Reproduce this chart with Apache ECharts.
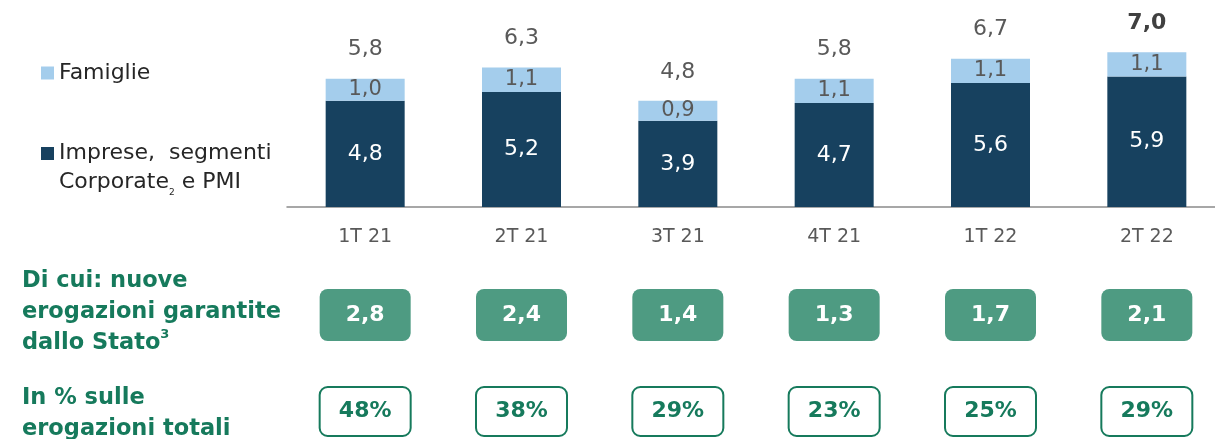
<!DOCTYPE html>
<html>
<head>
<meta charset="utf-8">
<script src="https://cdn.jsdelivr.net/npm/echarts@6/dist/echarts.min.js"></script>
<style>
  html, body { margin: 0; padding: 0; background: #fff; }
  #chart { width: 1215px; height: 439px; }
</style>
</head>
<body>
<div id="chart"></div>
<script>
// dati (mld €)
var categorie = ['1T 21', '2T 21', '3T 21', '4T 21', '1T 22', '2T 22']
var imprese   = [4.8, 5.2, 3.9, 4.7, 5.6, 5.9]
var famiglie  = [1.0, 1.1, 0.9, 1.1, 1.1, 1.1]
var totali    = [5.8, 6.3, 4.8, 5.8, 6.7, 7.0]
var garantite = [2.8, 2.4, 1.4, 1.3, 1.7, 2.1]
var quota     = [48, 38, 29, 23, 25, 29]

var nomeImprese  = 'Imprese, segmenti Corporate e PMI'
var nomeFamiglie = 'Famiglie'

// colori
var navy = '#17415F'
var lightBlue = '#A4CDEC'
var gray = '#595959'
var green = '#167A5C'
var greenFill = '#4E9B82'
var font = 'DejaVu Sans'

function virgola(v) {
    return v.toFixed(1).replace('.', ',')
}

var chart = echarts.init(document.getElementById('chart'), null, {renderer: 'canvas'})

// griglie: barre + due righe di riquadri (la griglia esce un po' a destra)
var gridLeft = 287, gridWidth = 938

function boxSeries(values, gridIdx, filled, fmt) {
    return {
        type: 'custom',
        xAxisIndex: gridIdx,
        yAxisIndex: gridIdx,
        data: values.map(function (v, i) { return [i, v] }),
        renderItem: function (params, api) {
            var cs = params.coordSys
            var cx = api.coord([api.value(0), 0])[0]
            var w = 91
            return {
                type: 'rect',
                shape: {x: cx - w / 2, y: cs.y, width: w, height: cs.height, r: 8},
                style: filled
                    ? {fill: greenFill}
                    : {fill: '#fff', stroke: green, lineWidth: 2},
                textContent: {
                    style: {
                        text: fmt(values[params.dataIndex]),
                        fill: filled ? '#fff' : green,
                        font: 'bold 22px "DejaVu Sans"'
                    }
                },
                textConfig: {position: 'inside'}
            }
        }
    }
}

var option = {
    backgroundColor: '#fff',
    animation: false,
    grid: [
        {left: gridLeft, width: gridWidth, top: 30, height: 177, outerBoundsMode: 'none'},
        {left: gridLeft, width: gridWidth, top: 289, height: 52, outerBoundsMode: 'none'},
        {left: gridLeft, width: gridWidth, top: 387, height: 49, outerBoundsMode: 'none'}
    ],
    xAxis: [
        {
            type: 'category',
            gridIndex: 0,
            data: categorie,
            axisLine: {lineStyle: {color: '#8a8a8a', width: 1.5}},
            axisTick: {show: false},
            axisLabel: {color: gray, fontSize: 19, fontFamily: font, margin: 21}
        },
        {type: 'category', gridIndex: 1, data: categorie, show: false},
        {type: 'category', gridIndex: 2, data: categorie, show: false}
    ],
    yAxis: [
        {type: 'value', gridIndex: 0, min: 0, max: 8, show: false},
        {type: 'value', gridIndex: 1, min: 0, max: 1, show: false},
        {type: 'value', gridIndex: 2, min: 0, max: 1, show: false}
    ],
    legend: [
        {
            data: [nomeFamiglie],
            orient: 'vertical',
            left: 41, top: 62, padding: 0,
            icon: 'rect', itemWidth: 13, itemHeight: 13,
            selectedMode: false,
            textStyle: {color: '#262626', fontSize: 22, fontFamily: font}
        },
        {
            data: [nomeImprese],
            orient: 'vertical',
            left: 41, top: 110, padding: 0,
            icon: 'rect', itemWidth: 13, itemHeight: 13,
            selectedMode: false,
            formatter: function () {
                return 'Imprese,  segmenti\nCorporate{s|2} e PMI'
            },
            textStyle: {
                color: '#262626', fontSize: 22, fontFamily: font,
                lineHeight: 29, padding: [29, 0, 0, 0],
                rich: {
                    s: {fontSize: 9, color: '#262626', fontFamily: font, verticalAlign: 'bottom', lineHeight: 29}
                }
            }
        }
    ],
    title: [
        {
            text: 'Di cui: nuove\nerogazioni garantite\ndallo Stato{sup|3}',
            left: 22, top: 266, padding: 0,
            textStyle: {
                color: green, fontSize: 22.5, fontWeight: 'bold', fontFamily: font, lineHeight: 31,
                rich: {
                    sup: {color: green, fontSize: 13, fontWeight: 'bold', fontFamily: font, verticalAlign: 'top', lineHeight: 24}
                }
            }
        },
        {
            text: 'In % sulle\nerogazioni totali',
            left: 22, top: 383, padding: 0,
            textStyle: {color: green, fontSize: 22.5, fontWeight: 'bold', fontFamily: font, lineHeight: 31}
        }
    ],
    series: [
        {
            name: nomeImprese,
            type: 'bar',
            stack: 'tot',
            barWidth: 79,
            data: imprese,
            itemStyle: {color: navy},
            label: {
                show: true, position: 'inside',
                color: '#fff', fontSize: 22, fontFamily: font,
                formatter: function (p) { return virgola(p.value) }
            }
        },
        {
            name: nomeFamiglie,
            type: 'bar',
            stack: 'tot',
            barWidth: 79,
            data: famiglie,
            itemStyle: {color: lightBlue},
            label: {
                show: true, position: 'inside',
                color: gray, fontSize: 21, fontFamily: font,
                formatter: function (p) { return virgola(p.value) }
            }
        },
        {
            name: 'Totale',
            type: 'bar',
            barWidth: 79,
            barGap: '-100%',
            silent: true,
            z: 1,
            data: totali.map(function (v, i) {
                return i === totali.length - 1
                    ? {value: v, label: {fontWeight: 'bold', color: '#404040'}}
                    : v
            }),
            itemStyle: {color: 'rgba(0,0,0,0)'},
            label: {
                show: true, position: 'top', distance: 18,
                color: gray, fontSize: 22, fontFamily: font,
                formatter: function (p) { return virgola(p.value) }
            }
        },
        boxSeries(garantite, 1, true, virgola),
        boxSeries(quota, 2, false, function (v) { return v + '%' })
    ]
}

chart.setOption(option)
</script>
</body>
</html>
